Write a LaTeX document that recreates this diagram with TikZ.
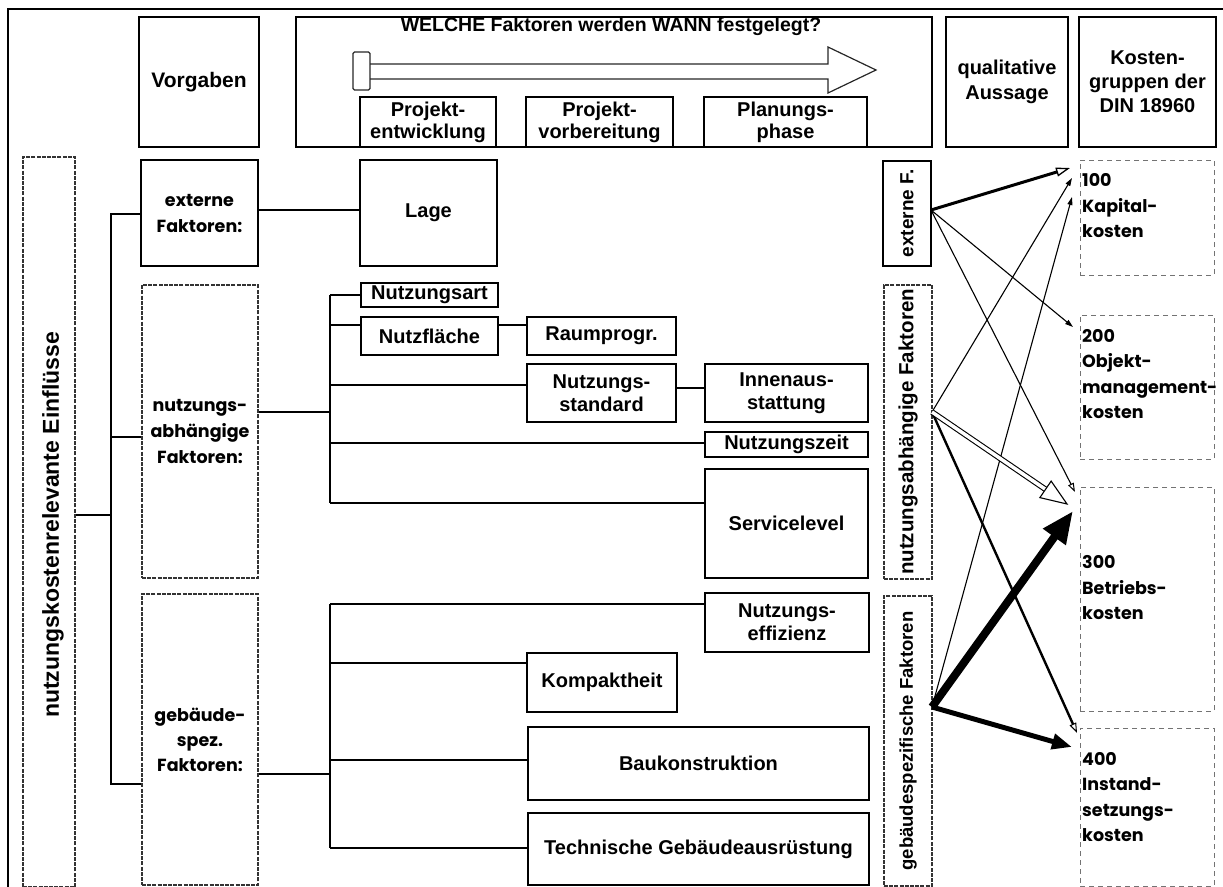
\documentclass[tikz,border=0pt]{standalone}
\usepackage{fontspec}
\setmainfont{Liberation Sans}
\newfontfamily\geo{Poppins}
\usetikzlibrary{arrows.meta,calc}
\newcommand\myfs[2]{\fontsize{#1bp}{#2bp}\selectfont\bfseries}
\begin{document}
\begin{tikzpicture}[x=1bp,y=-1bp,
  box/.style={draw, line width=1.8bp, inner sep=0pt, align=center, font=\myfs{20}{25}},
  rough/.style={draw=black!80, line width=1.3bp, dash pattern=on 4bp off 1.2bp},
  kbox/.style={draw=black!55, line width=1bp, dash pattern=on 5bp off 4bp, inner sep=0pt},
  conn/.style={line width=1.8bp},
  geotxt/.style={font=\geo\myfs{17.5}{25.5}, align=left, anchor=west, inner sep=0pt},
  thinarr/.style={line width=1.1bp, -{Triangle[length=8bp,width=5bp]}},
  openarr/.style={line width=1.1bp, -{Triangle[open,length=9bp,width=6bp,line width=1bp]}}]
\useasboundingbox (0,0) rectangle (1223,887);
% outer frame
\draw[line width=2bp] (8,887) -- (8,9) -- (1223,9);

% header
\node[box, minimum width=120bp, minimum height=130bp, font=\myfs{21}{25}] (vorg) at (199,82) {Vorgaben};
\node[box, minimum width=636bp, minimum height=130bp] (welche) at (614,82) {};
\node[font=\myfs{19.5}{22}, inner sep=0pt] (title) at (611,27) {WELCHE Faktoren werden WANN festgelegt?};
\draw[line width=1.2bp, black!85] (370,64) -- (828,64) -- (828,47) -- (876,70) -- (828,93) -- (828,79) -- (370,79);
\draw[line width=1.2bp, black!85, rounded corners=1.5bp] (353,52) rectangle (370,90);
\node[box, minimum width=136bp, minimum height=50bp, font=\myfs{20}{22}] (pe) at (428,122) {Projekt-\\entwicklung};
\node[box, minimum width=147bp, minimum height=50bp, font=\myfs{20}{22}] (pv) at (599.5,122) {Projekt-\\vorbereitung};
\node[box, minimum width=163bp, minimum height=50bp, font=\myfs{20}{22}] (pp) at (785.5,122) {Planungs-\\phase};
\node[box, minimum width=122bp, minimum height=130bp] (qual) at (1007,82) {qualitative\\Aussage};
\node[box, minimum width=137bp, minimum height=130bp, font=\myfs{20}{24}] (kost) at (1147.5,82) {Kosten-\\gruppen der\\DIN 18960};

% left column
\node[draw, rough, minimum width=52bp, minimum height=730bp, inner sep=0pt] (tall) at (49,522) {};
\node[rotate=90, font=\myfs{23}{25}, inner sep=0pt] (talltxt) at (53,525) {nutzungskostenrelevante Einflüsse};
\node[box, minimum width=117bp, minimum height=106bp, font=\geo\myfs{17.5}{26}] (ext) at (199.5,213) {externe\\Faktoren:};
\node[box, rough, minimum width=116bp, minimum height=293bp, font=\geo\myfs{17.5}{26}] (nutz) at (200,431.5) {nutzungs-\\abhängige\\Faktoren:};
\node[box, rough, minimum width=116bp, minimum height=291bp, font=\geo\myfs{17.5}{25}] (geb) at (200,739.5) {gebäude-\\spez.\\Faktoren:};

\coordinate (bt) at (111,214);
\coordinate (bn) at (111,437);
\coordinate (bm) at (111,515);
\coordinate (bb) at (111,784);
\draw[conn] (ext.west |- bt) -- (bt) -- (bb) -- (geb.west |- bb);
\draw[conn] (bn) -- (nutz.west |- bn);
\draw[conn] (tall.east |- bm) -- (bm);

% middle boxes
\node[box, minimum width=137bp, minimum height=106bp] (lage) at (428.5,213) {Lage};
\draw[conn] (ext.east |- 0,210) -- (lage.west |- 0,210);

\node[box, minimum width=137bp, minimum height=24bp] (nart) at (429.5,295) {Nutzungsart};
\node[box, minimum width=137bp, minimum height=38bp] (nfl) at (429.5,336) {Nutzfläche};
\node[box, minimum width=149bp, minimum height=38bp] (raum) at (601.5,336) {Raumprogr.};
\node[box, minimum width=149bp, minimum height=58bp, font=\myfs{20}{23}] (nstd) at (601.5,393) {Nutzungs-\\standard};
\node[box, minimum width=163bp, minimum height=58bp, font=\myfs{20}{23}] (innen) at (786.5,393) {Innenaus-\\stattung};
\node[box, minimum width=163bp, minimum height=25bp] (nzeit) at (786.5,444.5) {Nutzungszeit};
\node[box, minimum width=163bp, minimum height=109bp] (serv) at (786.5,523.5) {Servicelevel};

\coordinate (vn) at (330,412);
\coordinate (n1) at (330,295);
\coordinate (n2) at (330,325);
\coordinate (n3) at (330,385);
\coordinate (n4) at (330,443);
\coordinate (n5) at (330,503);
\draw[conn] (nutz.east |- vn) -- (vn);
\draw[conn] (n1) -- (n5);
\draw[conn] (n1) -- (nart.west |- n1);
\draw[conn] (n2) -- (nfl.west |- n2);
\draw[conn] (n3) -- (nstd.west |- n3);
\draw[conn] (n4) -- (nzeit.west |- n4);
\draw[conn] (n5) -- (serv.west |- n5);
\draw[conn] (nfl.east |- n2) -- (raum.west |- n2);
\draw[conn] (nstd.east |- 0,388) -- (innen.west |- 0,388);

\node[box, minimum width=164bp, minimum height=59bp, font=\myfs{20}{23}] (neff) at (787,622.5) {Nutzungs-\\effizienz};
\node[box, minimum width=150bp, minimum height=59bp] (komp) at (602,682.5) {Kompaktheit};
\node[box, minimum width=341bp, minimum height=73bp] (bauk) at (698.5,763.5) {Baukonstruktion};
\node[box, minimum width=341bp, minimum height=72bp] (tga) at (698.5,849) {Technische Gebäudeausrüstung};

\coordinate (vg) at (330,774);
\coordinate (g1) at (330,604);
\coordinate (g2) at (330,663);
\coordinate (g3) at (330,760);
\coordinate (g4) at (330,848);
\draw[conn] (geb.east |- vg) -- (vg);
\draw[conn] (g1) -- (g4);
\draw[conn] (g1) -- (neff.west |- g1);
\draw[conn] (g2) -- (komp.west |- g2);
\draw[conn] (g3) -- (bauk.west |- g3);
\draw[conn] (g4) -- (tga.west |- g4);

% qualitative column
\node[box, minimum width=48bp, minimum height=105bp] (qe) at (907,213.5) {};
\node[rotate=90, font=\myfs{19}{20}, inner sep=0pt] (qet) at (qe) {externe F.};
\node[box, rough, minimum width=48bp, minimum height=294bp] (qn) at (908,432) {};
\node[rotate=90, font=\myfs{20.5}{21}, inner sep=0pt] (qnt) at (qn) {nutzungsabhängige Faktoren};
\node[box, rough, minimum width=48bp, minimum height=290bp] (qg) at (908,741) {};
\node[rotate=90, font=\myfs{18.5}{20}, inner sep=0pt] (qgt) at (qg) {gebäudespezifische Faktoren};

% cost groups
\node[kbox, minimum width=134bp, minimum height=115bp] (k100) at (1147,217.5) {};
\node[kbox, minimum width=134bp, minimum height=144bp] (k200) at (1147,387) {};
\node[kbox, minimum width=134bp, minimum height=224bp] (k300) at (1147,599) {};
\node[kbox, minimum width=134bp, minimum height=158bp] (k400) at (1147,807) {};
\node[geotxt] (t100) at (1082,206) {100\\Kapital-\\kosten};
\node[geotxt] (t200) at (1082,374) {200\\Objekt-\\management-\\kosten};
\node[geotxt] (t300) at (1082,588) {300\\Betriebs-\\kosten};
\node[geotxt] (t400) at (1082,797) {400\\Instand-\\setzungs-\\kosten};

% arrows
\coordinate (sE) at (931,210);
\coordinate (sN) at (932,412);
\coordinate (sG) at (932,707);
\coordinate (e100) at (1070,168);
\coordinate (e200) at (1073,327);
\coordinate (e300) at (1075,492);
\coordinate (n100) at (1072,178);
\coordinate (n300) at (1067,504);
\coordinate (n400) at (1077,733);
\coordinate (g100) at (1072,197);
\coordinate (g300) at (1073,511);
\coordinate (g400) at (1072,747);

\draw[line width=3bp, -{Triangle[open,length=14bp,width=9bp,line width=1.3bp]}] (sE) -- (e100);
\draw[thinarr] (sE) -- (e200);
\draw[openarr] (sE) -- (e300);
\draw[thinarr] (sN) -- (n100);
\draw[thinarr] (sG) -- (g100);
\draw[line width=2.4bp, -{Triangle[open,length=10bp,width=7bp,line width=1bp]}] (sN) -- (n400);
\coordinate (hb) at ($(n300)!26bp!(sN)$);
\draw[line width=1.1bp, double, double distance=3.5bp] (sN) -- (hb);
\draw[line width=1.1bp, fill=white] (n300) -- ($(hb)!10bp!90:(n300)$) -- ($(hb)!10bp!-90:(n300)$) -- cycle;
\draw[line width=8bp, -{Triangle[length=32bp,width=26bp]}] (sG) -- (g300);
\draw[line width=5bp, -{Triangle[length=20bp,width=15bp]}] (sG) -- (g400);
\end{tikzpicture}
\end{document}
